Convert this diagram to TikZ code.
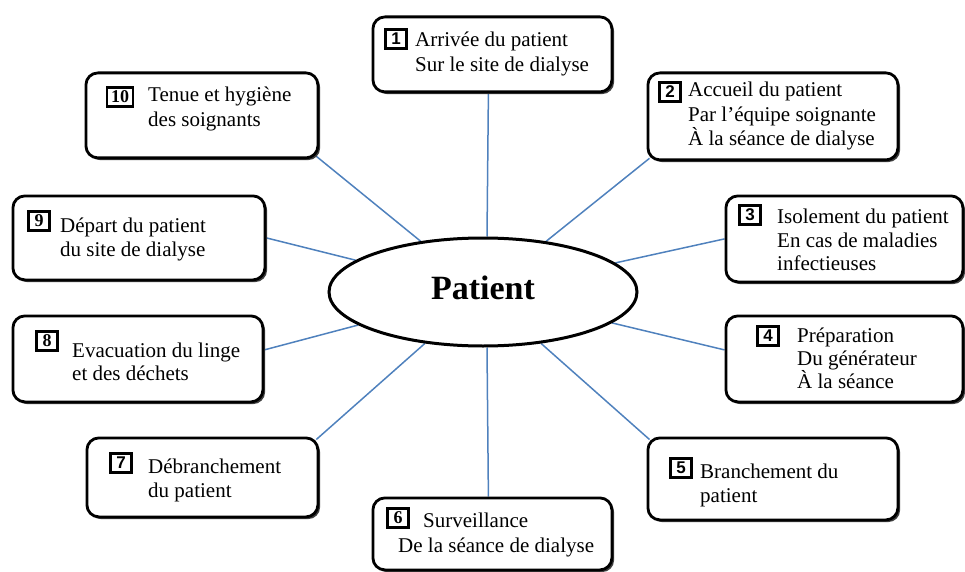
\documentclass[tikz,border=0pt]{standalone}
\usepackage{fontspec}
\setmainfont{Liberation Serif}
\newfontfamily\numsans{Liberation Sans}
\usetikzlibrary{backgrounds,shadows,calc,shapes.geometric}
\definecolor{connblue}{RGB}{79,129,189}
\begin{document}
\begin{tikzpicture}[x=1pt,y=-1pt,
  stepbox/.style={draw=black, line width=2.8pt, rounded corners=12pt, fill=white,
    inner sep=0pt, anchor=north west,
    drop shadow={shadow xshift=2.2pt, shadow yshift=-2.2pt, fill=black!75, opacity=1}},
  txt/.style={anchor=base west, inner sep=0pt, font=\fontsize{21}{25}\selectfont},
  numbox/.style={draw=black, line width=2.3pt, minimum width=21pt, minimum height=19pt,
    inner sep=0pt, font=\numsans\bfseries\fontsize{17}{17}\selectfont},
  numboxs/.style={numbox, font=\bfseries\fontsize{18}{18}\selectfont},
  conn/.style={draw=connblue, line width=1.5pt}]
\useasboundingbox (0,0) rectangle (965,572);

% central ellipse
\node[ellipse, draw=black, line width=3pt, fill=white, minimum width=308pt, minimum height=108pt,
  inner sep=0pt, text depth=8pt, font=\bfseries\fontsize{34}{34}\selectfont] (pat) at (483,292) {Patient};

% boxes
\node[stepbox, minimum width=239pt, minimum height=75pt] (b1) at (371.5,15.5) {};
\node[stepbox, minimum width=250pt, minimum height=87pt] (b2) at (646.5,71.5) {};
\node[stepbox, minimum width=237pt, minimum height=86pt] (b3) at (724.5,194.5) {};
\node[stepbox, minimum width=237pt, minimum height=86pt] (b4) at (724.5,314.5) {};
\node[stepbox, minimum width=250pt, minimum height=82pt] (b5) at (646.5,436.5) {};
\node[stepbox, minimum width=239pt, minimum height=72pt] (b6) at (371.5,496.5) {};
\node[stepbox, minimum width=231pt, minimum height=79pt] (b7) at (85.5,436.5) {};
\node[stepbox, minimum width=250pt, minimum height=86pt] (b8) at (11.5,314.5) {};
\node[stepbox, minimum width=252pt, minimum height=84pt] (b9) at (11.5,194.5) {};
\node[stepbox, minimum width=232pt, minimum height=85pt] (b10) at (84.5,71.5) {};

% connectors
\begin{pgfonlayer}{background}
\draw[conn] ($(b1.south)+(-4,0)$) -- ($(pat.north)+(4,0)$);
\draw[conn] ($(b2.south west)+(3,-3)$) -- (pat);
\draw[conn] (b3.west) -- (pat);
\draw[conn] ($(b4.west)+(0,-9)$) -- (pat);
\draw[conn] ($(b5.north west)+(3,3)$) -- (pat);
\draw[conn] ($(b6.north)+(-4,0)$) -- ($(pat.south)+(4,0)$);
\draw[conn] ($(b7.north east)+(-3,3)$) -- (pat);
\draw[conn] ($(b8.east)+(0,-9)$) -- (pat);
\draw[conn] (b9.east) -- (pat);
\draw[conn] ($(b10.south east)+(-3,-3)$) -- (pat);
\end{pgfonlayer}

% number boxes
\node[numbox] (n1) at (396,39) {1};
\node[numbox] (n2) at (670,92) {2};
\node[numbox] (n3) at (750,215) {3};
\node[numbox] (n4) at (768,336) {4};
\node[numbox] (n5) at (681,468) {5};
\node[numboxs] (n6) at (398,518) {6};
\node[numbox] (n7) at (121,463) {7};
\node[numboxs] (n8) at (47,341) {8};
\node[numboxs] (n9) at (39,221) {9};
\node[numboxs, minimum width=26pt] (n10) at (120,97) {10};

% texts
\node[txt] (t1a) at (415,47) {Arrivée du patient};
\node[txt] (t1b) at (415,72) {Sur le site de dialyse};
\node[txt] (t2a) at (688,97) {Accueil du patient};
\node[txt] (t2b) at (688,122) {Par l’équipe soignante};
\node[txt] (t2c) at (688,146) {À la séance de dialyse};
\node[txt] (t3a) at (777,223) {Isolement du patient};
\node[txt] (t3b) at (777,247) {En cas de maladies};
\node[txt] (t3c) at (777,270) {infectieuses};
\node[txt] (t4a) at (797,342) {Préparation};
\node[txt] (t4b) at (797,365) {Du générateur};
\node[txt] (t4c) at (797,388) {À la séance};
\node[txt] (t5a) at (700,478) {Branchement du};
\node[txt] (t5b) at (700,502) {patient};
\node[txt] (t6a) at (423,527) {Surveillance};
\node[txt] (t6b) at (398,552) {De la séance de dialyse};
\node[txt] (t7a) at (148,473) {Débranchement};
\node[txt] (t7b) at (148,497) {du patient};
\node[txt] (t8a) at (72,357) {Evacuation du linge};
\node[txt] (t8b) at (72,380) {et des déchets};
\node[txt] (t9a) at (60,232) {Départ du patient};
\node[txt] (t9b) at (60,256) {du site de dialyse};
\node[txt] (t10a) at (148,102) {Tenue et hygiène};
\node[txt] (t10b) at (148,127) {des soignants};
\end{tikzpicture}
\end{document}
